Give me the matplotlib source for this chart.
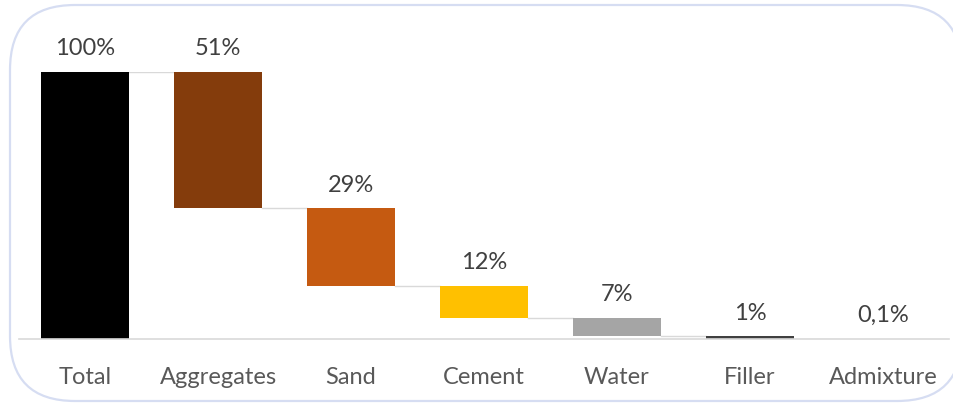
import matplotlib.pyplot as plt
from matplotlib.patches import FancyBboxPatch

categories = ["Total", "Aggregates", "Sand", "Cement", "Water", "Filler", "Admixture"]
shares = [100, 51, 29, 12, 7, 1, 0.1]
share_labels = ["100%", "51%", "29%", "12%", "7%", "1%", "0,1%"]
colors = ["#000000", "#843c0c", "#c55a11", "#ffc000", "#a5a5a5", "#404040", "#7f7f7f"]

plt.rcParams['font.family'] = ['Lato', 'DejaVu Sans']

fig = plt.figure(figsize=(9.54, 4.03), dpi=100)

# rounded frame behind the chart, in pixel units
bg = fig.add_axes([0, 0, 1, 1], zorder=0)
bg.set_xlim(0, 954)
bg.set_ylim(403, 0)
bg.axis('off')
bg.add_patch(FancyBboxPatch((10, 5), 952, 396, boxstyle="round,pad=0,rounding_size=65",
                            facecolor='white', edgecolor='#d6ddf2', linewidth=1.6))

ax = fig.add_axes([18.5 / 954, (403 - 339) / 403, 931 / 954, 267 / 403], zorder=1)
ax.patch.set_alpha(0)

# waterfall: first bar from zero, then each part hangs below the running level
bottoms = []
level = shares[0]
for i, v in enumerate(shares):
    if i == 0:
        bottoms.append(0)
    else:
        level = max(level - v, 0)
        bottoms.append(level)

width = 0.66
x = list(range(len(categories)))
bars = ax.bar(x, shares, bottom=bottoms, width=width, color=colors, zorder=2)

# connector lines between consecutive bars
for i in range(len(categories) - 1):
    y = bottoms[i] if i > 0 else shares[0]
    ax.plot([i + width / 2, i + 1 - width / 2], [y, y], color='#d9d9d9', lw=1, zorder=1)

for i, lab in enumerate(share_labels):
    top = bottoms[i] + shares[i]
    ax.annotate(lab, (i, top), xytext=(0, 9), textcoords='offset points',
                ha='center', va='bottom', fontsize=17, color='#404040', annotation_clip=False)

ax.set_xlim(-0.5, 6.5)
ax.set_ylim(0, 100)
ax.set_xticks(x)
ax.set_xticklabels(categories, fontsize=17, color='#595959')
ax.tick_params(axis='x', length=0, pad=20)
ax.set_yticks([])
for side in ['top', 'right', 'left']:
    ax.spines[side].set_visible(False)
ax.spines['bottom'].set_color('#d9d9d9')
ax.spines['bottom'].set_linewidth(1.2)

fig.savefig('out.png', dpi=100)
